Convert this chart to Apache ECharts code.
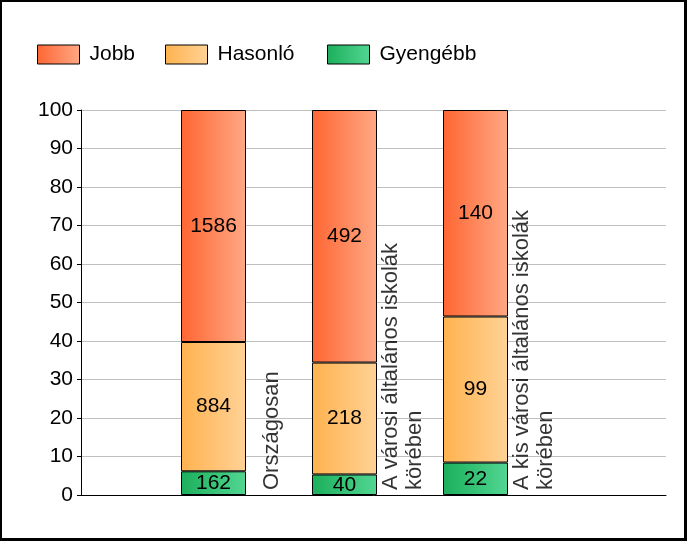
<!DOCTYPE html>
<html>
<head>
<meta charset="utf-8">
<script src="https://cdn.jsdelivr.net/npm/echarts@6/dist/echarts.min.js"></script>
<style>
  html, body { margin: 0; padding: 0; background: #fff; }
  #frame { position: relative; width: 687px; height: 541px; box-sizing: border-box;
           border-style: solid; border-color: #000; border-width: 2px 3px 3px 2px; background: #fff; }
  #chart { position: absolute; left: -2px; top: -2px; width: 687px; height: 541px; }
</style>
</head>
<body>
<div id="frame"><div id="chart"></div></div>
<script>
// ---- data ----
const categories = ['Országosan', 'A városi általános iskolák\nkörében', 'A kis városi általános iskolák\nkörében'];
const seriesNames = ['Jobb', 'Hasonló', 'Gyengébb'];
const jobb     = [1586, 492, 140];
const hasonlo  = [884, 218, 99];
const gyengebb = [162, 40, 22];
const yTicks = [0, 10, 20, 30, 40, 50, 60, 70, 80, 90, 100];

// ---- build ----
const totals = categories.map((c, i) => jobb[i] + hasonlo[i] + gyengebb[i]);
const pct = arr => arr.map((v, i) => v / totals[i] * 100);

function grad(c1, c2) {
  return new echarts.graphic.LinearGradient(0, 0, 1, 0, [{ offset: 0, color: c1 }, { offset: 1, color: c2 }]);
}
const colJobb = grad('#FF6633', '#FFA884');
const colHas  = grad('#FFB24F', '#FFD296');
const colGy   = grad('#1CAF5C', '#52D692');

const FONT = 'Liberation Sans, Arial, sans-serif';
const FS = 21;

function barSeries(name, arr, color) {
  return {
    name: name, type: 'bar', stack: 'total', barWidth: 65,
    xAxisIndex: 1, yAxisIndex: 1,
    data: pct(arr),
    itemStyle: { color: color, borderColor: '#000', borderWidth: 1 },
    label: { show: true, position: 'inside', color: '#000', fontSize: FS, fontFamily: FONT,
             formatter: p => String(arr[p.dataIndex]) },
    emphasis: { disabled: true }
  };
}

function legendItem(name, left) {
  return {
    left: left, top: 44, padding: 0, orient: 'horizontal', itemWidth: 42, itemHeight: 19,
    data: [{ name: name, icon: 'rect', itemStyle: { borderColor: '#000', borderWidth: 1 } }],
    textStyle: { color: '#000', fontSize: FS, fontFamily: FONT, padding: [0, 0, 0, 5] },
    selectedMode: false
  };
}

const chart = echarts.init(document.getElementById('chart'), null, { renderer: 'canvas' });
chart.setOption({
  animation: false,
  backgroundColor: 'transparent',
  color: [colJobb, colHas, colGy],
  legend: [legendItem(seriesNames[0], 37), legendItem(seriesNames[1], 165), legendItem(seriesNames[2], 327)],
  grid: [
    { left: 81, right: 21, top: 110, bottom: 46, containLabel: false },
    { left: 148, width: 393, top: 110, bottom: 46, containLabel: false }
  ],
  xAxis: [
    {
      gridIndex: 0, type: 'value', min: 0, max: 1,
      axisLine: { show: true, onZero: false, lineStyle: { color: '#000', width: 1 } },
      axisTick: { show: false }, axisLabel: { show: false }, splitLine: { show: false }
    },
    {
      gridIndex: 1, type: 'category', data: categories, boundaryGap: true,
      axisLine: { show: false }, axisTick: { show: false }, axisLabel: { show: false }, splitLine: { show: false }
    }
  ],
  yAxis: [
    {
      gridIndex: 0, type: 'value', min: yTicks[0], max: yTicks[yTicks.length - 1], interval: 10,
      axisLine: { show: true, lineStyle: { color: '#000', width: 1 } },
      axisTick: { show: true, length: 4, lineStyle: { color: '#000' } },
      axisLabel: { color: '#000', fontSize: FS, fontFamily: FONT, margin: 8 },
      splitLine: { show: true, lineStyle: { color: '#BFBFBF', width: 1 } }
    },
    {
      gridIndex: 1, type: 'value', min: yTicks[0], max: yTicks[yTicks.length - 1], interval: 10,
      axisLine: { show: false }, axisTick: { show: false }, axisLabel: { show: false }, splitLine: { show: false }
    }
  ],
  series: [
    barSeries(seriesNames[2], gyengebb, colGy),
    barSeries(seriesNames[1], hasonlo, colHas),
    barSeries(seriesNames[0], jobb, colJobb),
    {
      type: 'scatter', symbolSize: 0, silent: true, z: 5,
      xAxisIndex: 1, yAxisIndex: 1,
      data: categories.map(() => 0),
      label: {
        show: true, position: [58, -5], rotate: 90, align: 'left', verticalAlign: 'middle',
        color: '#000', fontSize: 22, lineHeight: 24, fontFamily: FONT,
        formatter: p => categories[p.dataIndex]
      }
    }
  ]
});
</script>
</body>
</html>
